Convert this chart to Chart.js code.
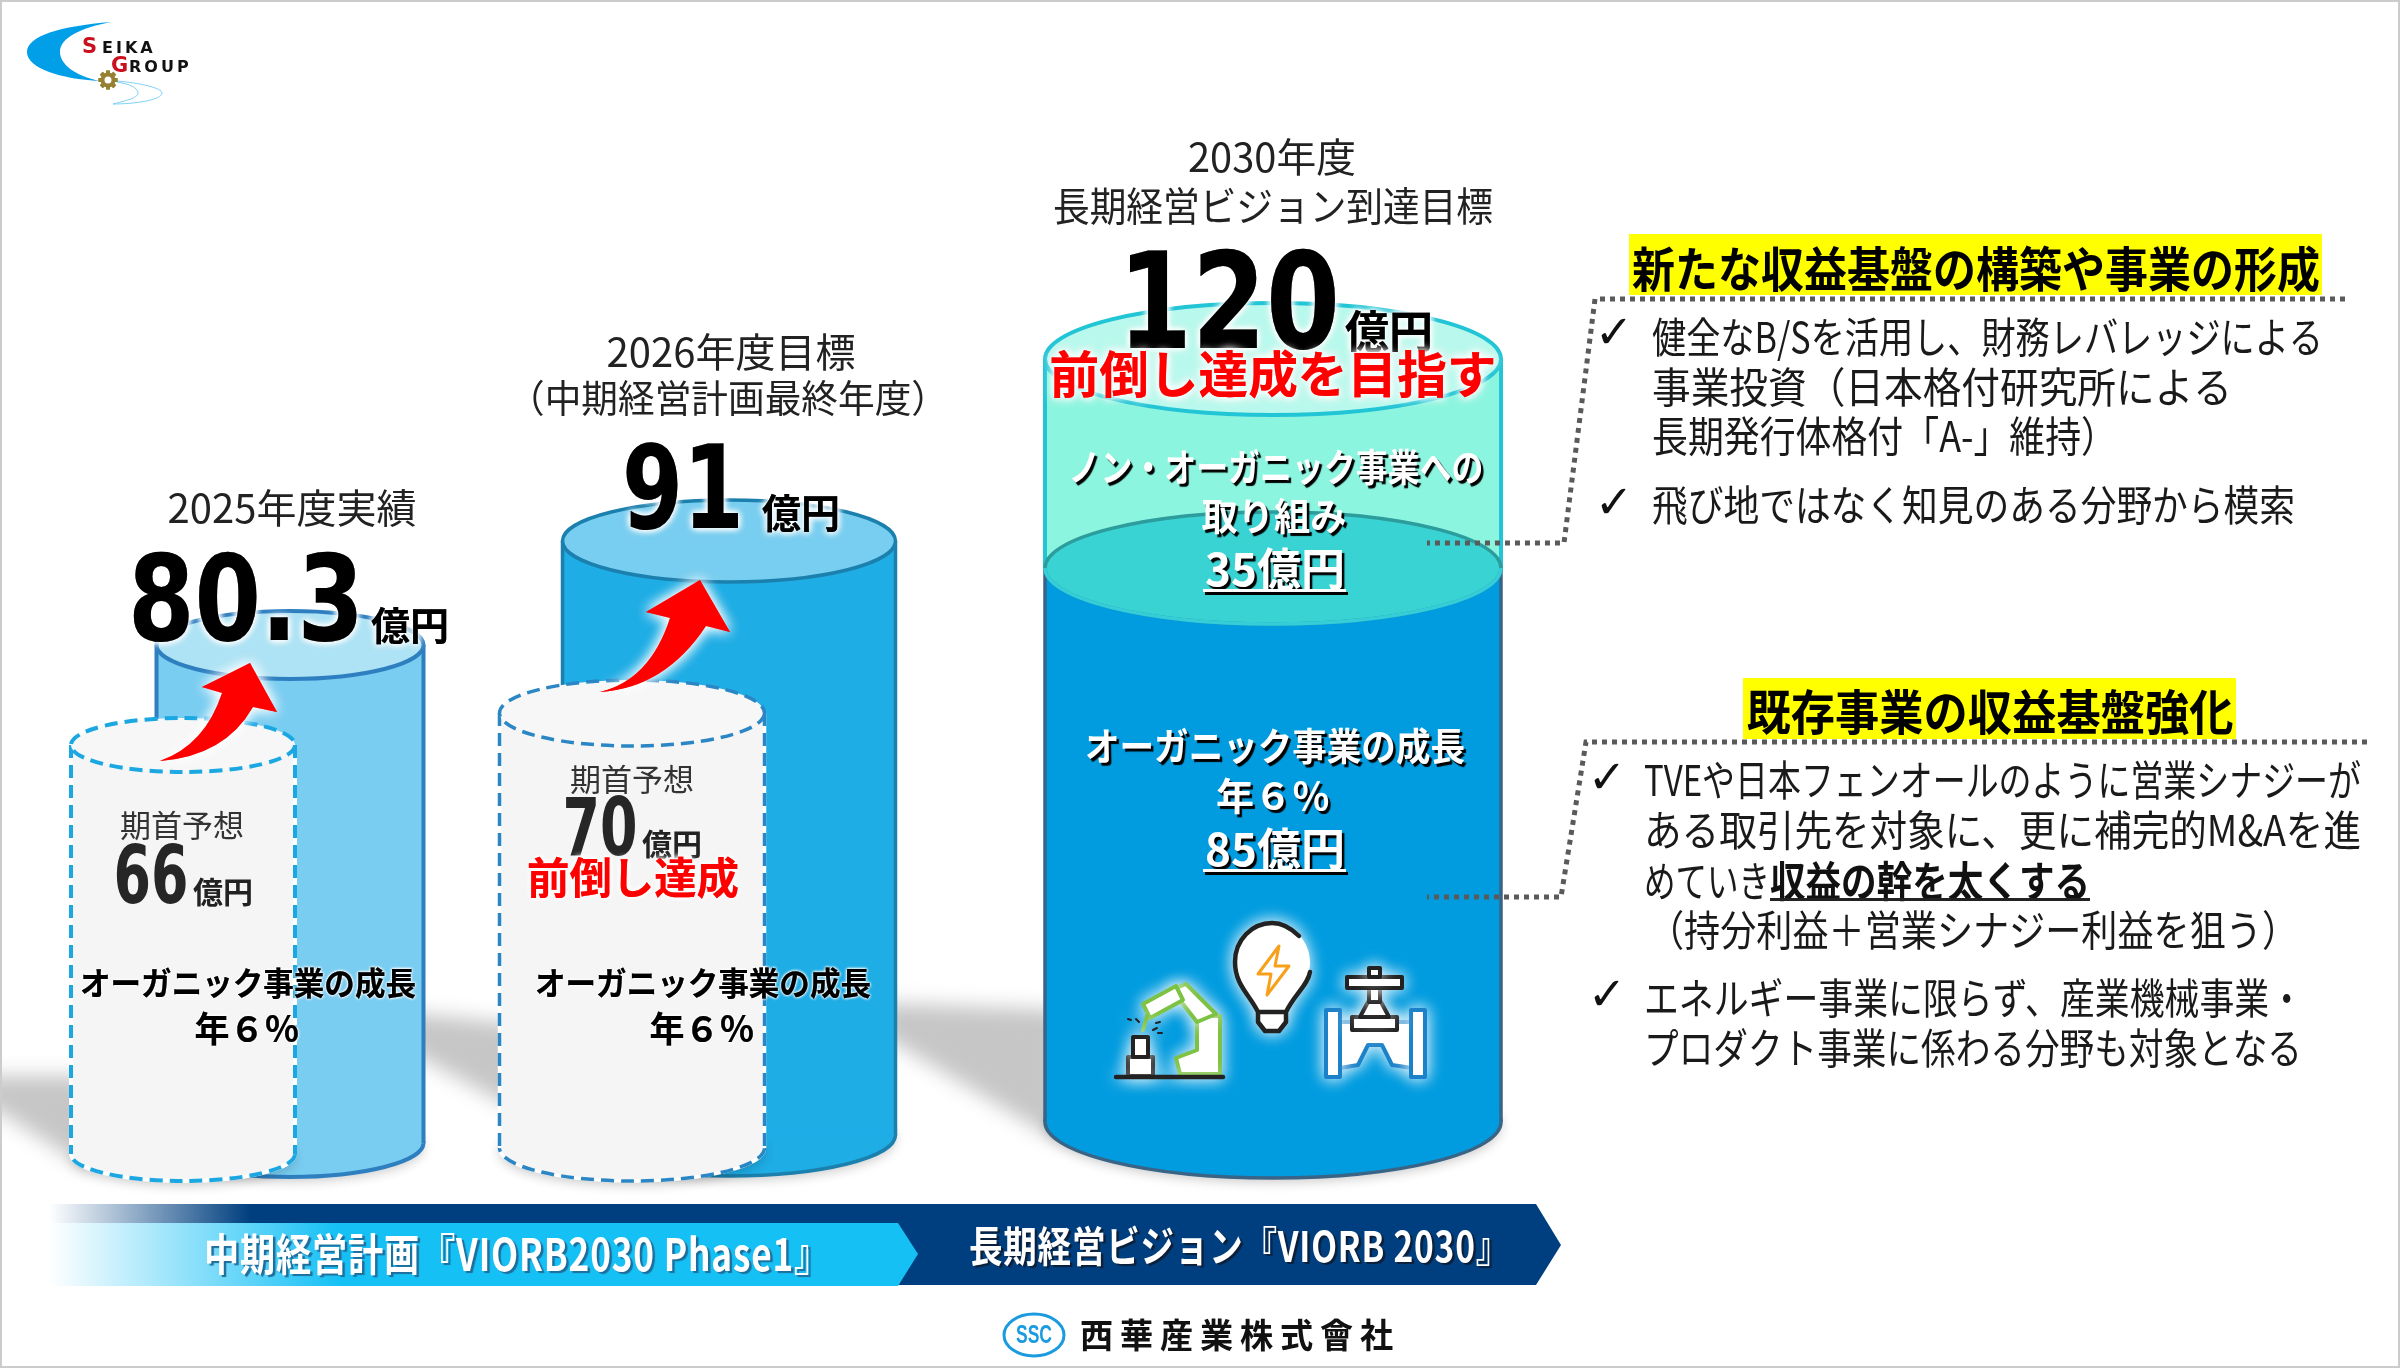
<!DOCTYPE html>
<html lang="ja">
<head>
<meta charset="UTF-8">
<title>長期経営ビジョン VIORB 2030</title>
<script src="https://cdn.jsdelivr.net/npm/chart.js@4"></script>
<style>
  html, body { margin: 0; background: #fff; }
  canvas { display: block; }
</style>
</head>
<body>
<canvas id="vision_chart" width="2400" height="1368"></canvas>
<script>
// values (億円)
const resultYears = ['2025年度実績', '2026年度目標', '2030年度'];
const resultValues = [80.3, 91, 120];
const forecastValues = [66, 70];
const organicValue = 85;
const nonOrganicValue = 35;

const yenUnit = '億円';
const growthText = ['オーガニック事業の成長', '年６％'];
const upperPoints = ['健全なB/Sを活用し、財務レバレッジによる', '事業投資（日本格付研究所による', '長期発行体格付「A-」維持）', '飛び地ではなく知見のある分野から模索'];
const lowerPoints = ['TVEや日本フェンオールのように営業シナジーが', 'ある取引先を対象に、更に補完的M&Aを進', '（持分利益＋営業シナジー利益を狙う）', 'エネルギー事業に限らず、産業機械事業・', 'プロダクト事業に係わる分野も対象となる'];

const JP = '"Noto Sans CJK JP"';
const BIG = '"DejaVu Sans"';

// the slide is not drawn to scale, so every cylinder gets its own hidden axis,
// pinned by two value -> pixel pairs
function pinAxis(v0, p0, v1, p1) {
  const perUnit = (p0 - p1) / (v1 - v0);
  const zero = p0 + v0 * perUnit;
  return { type: 'linear', display: false, min: (zero - 1368) / perUnit, max: zero / perUnit };
}

const looks = {
  fc66: { ry: 27, cap: '#F7F7F7', line: '#1AA7E2', lw: 4, dash: [13, 7], bottom: true },
  fc70: { ry: 33, cap: '#F7F7F7', line: '#2A86C4', lw: 3.5, dash: [13, 7], bottom: true },
  res80: { ry: 34, cap: '#AEE3F5', line: '#2E7FC0', lw: 4, bottom: true },
  res91: { ry: 41, cap: '#78CEF0', line: '#1B80AE', lw: 3.5, bottom: true },
  organic: { ry: 56, cap: '#3AD3D3', line: '#2C9C9C', front: '#35CDD8', lw: 3.5, side: '#3A6485', bottom: true },
  nonOrganic: { ry: 56, cap: '#B9F8EC', line: '#22C5D6', lw: 4, side: '#22C5D6' }
};

function bar(id, label, x, width, y, fill, axis) {
  return { label: label, lookId: id, data: [{ x: x, y: y }], barThickness: width, backgroundColor: fill, borderWidth: 0, yAxisID: axis };
}

// first dataset is painted last
const datasets = [
  bar('fc66', '2025年度 期首予想', 183, 224, [0, forecastValues[0]], '#F5F5F5', 'yA2'),
  bar('fc70', '2026年度 期首予想', 632, 265, [0, forecastValues[1]], '#F5F5F5', 'yB2'),
  bar('res80', resultYears[0], 290, 267, [0, resultValues[0]], '#79CDF1', 'yA'),
  bar('res91', resultYears[1], 729, 333, [0, resultValues[1]], '#1EADE5', 'yB'),
  bar('organic', growthText[0], 1273, 456, [0, organicValue], '#019CE0', 'yC'),
  bar('nonOrganic', 'ノン・オーガニック事業', 1273, 456, [organicValue, organicValue + nonOrganicValue], '#8CF5DF', 'yD')
];

function outline(ctx, look) {
  ctx.strokeStyle = look.line;
  ctx.lineWidth = look.lw;
  ctx.setLineDash(look.dash || []);
}

function text(ctx, str, x, y, o) {
  ctx.save();
  ctx.font = (o.weight || 400) + ' ' + o.size + 'px ' + (o.family || JP);
  ctx.textAlign = o.align || 'center';
  ctx.textBaseline = o.base || 'middle';
  ctx.fillStyle = o.color || '#111';
  if (o.spacing) ctx.letterSpacing = o.spacing + 'px';
  if (o.halo) { ctx.shadowColor = o.halo; ctx.shadowBlur = o.blur || 8; }
  if (o.drop) { ctx.shadowColor = o.drop; ctx.shadowBlur = 1; ctx.shadowOffsetX = 2.5; ctx.shadowOffsetY = 2.5; }
  const n = o.halo ? 3 : 1;
  for (let i = 0; i < n; i++) {
    if (o.width) ctx.fillText(str, x, y, o.width); else ctx.fillText(str, x, y);
  }
  ctx.restore();
}

function poly(ctx, pts, fill, stroke, lw) {
  ctx.beginPath();
  pts.forEach(function (p, i) { if (i) ctx.lineTo(p[0], p[1]); else ctx.moveTo(p[0], p[1]); });
  ctx.closePath();
  if (fill) { ctx.fillStyle = fill; ctx.fill(); }
  if (stroke) { ctx.strokeStyle = stroke; ctx.lineWidth = lw; ctx.stroke(); }
}

function dotted(ctx, pts) {
  ctx.save();
  ctx.strokeStyle = '#5A5A5A';
  ctx.lineWidth = 5;
  ctx.setLineDash([5, 5]);
  ctx.beginPath();
  pts.forEach(function (p, i) { if (i) ctx.lineTo(p[0], p[1]); else ctx.moveTo(p[0], p[1]); });
  ctx.stroke();
  ctx.restore();
}

function drawShadows(ctx) {
  ctx.save();
  ctx.beginPath();
  ctx.rect(2, 0, 2396, 1368);
  ctx.clip();
  ctx.filter = 'blur(10px)';
  poly(ctx, [[-40, 1076], [90, 1076], [90, 1170], [0, 1112], [-40, 1095]], '#C6C6C6');
  poly(ctx, [[400, 1012], [520, 1024], [520, 1112], [421, 1058], [400, 1045]], '#C6C6C6');
  poly(ctx, [[880, 1003], [1060, 1010], [1060, 1142], [898, 1045], [880, 1035]], '#C6C6C6');
  ctx.restore();
}

function drawArrow(ctx, d) {
  ctx.save();
  ctx.shadowColor = '#fff';
  ctx.shadowBlur = 14;
  ctx.fillStyle = '#FF0000';
  const p = new Path2D(d);
  ctx.fill(p);
  ctx.fill(p);
  ctx.restore();
}

function drawBanner(ctx) {
  const dark = ctx.createLinearGradient(49, 0, 250, 0);
  dark.addColorStop(0, 'rgba(0,63,127,0)');
  dark.addColorStop(1, '#003F7F');
  poly(ctx, [[49, 1204], [1536, 1204], [1561, 1245], [1536, 1285], [49, 1285]], dark);
  const light = ctx.createLinearGradient(49, 0, 340, 0);
  light.addColorStop(0, '#FFFFFF');
  light.addColorStop(1, '#15C0F5');
  poly(ctx, [[49, 1223], [898, 1223], [918, 1254], [898, 1286], [49, 1286]], light);
  text(ctx, '中期経営計画『VIORB2030 Phase1』', 204, 1254, { size: 44, weight: 700, align: 'left', color: '#fff', drop: '#1C6E9C', spacing: 1, width: 626 });
  text(ctx, '長期経営ビジョン『VIORB 2030』', 969, 1246, { size: 42, weight: 700, align: 'left', color: '#fff', drop: '#0B1F3A', spacing: 1, width: 541 });
}

function drawLogos(ctx) {
  // top left mark
  ctx.fillStyle = '#009FE8';
  ctx.fill(new Path2D('M111,22 C60,26 27,36 27,52 C27,68 60,79 100,81 C75,76 60,64 60,52 C60,38 80,28 111,22 Z'));
  ctx.strokeStyle = '#7FD0F5';
  ctx.lineWidth = 1;
  ctx.stroke(new Path2D('M117,81 C140,83 162,88 162,93 C162,100 135,104 113,104 M117,82 C130,84 138,88 138,93 C138,98 125,101 113,104'));
  ctx.save();
  ctx.translate(108, 80);
  ctx.fillStyle = '#968132';
  for (let i = 0; i < 8; i++) { ctx.rotate(Math.PI / 4); ctx.fillRect(-2, -9.5, 4, 19); }
  ctx.beginPath(); ctx.arc(0, 0, 7.5, 0, 2 * Math.PI); ctx.fill();
  ctx.fillStyle = '#fff';
  ctx.beginPath(); ctx.arc(0, 0, 3.5, 0, 2 * Math.PI); ctx.fill();
  ctx.restore();
  const fam = '"DejaVu Sans"';
  text(ctx, 'S', 82, 53, { size: 21, weight: 700, family: fam, color: '#C8101E', align: 'left', base: 'alphabetic' });
  text(ctx, 'EIKA', 102, 53, { size: 16, weight: 700, family: fam, color: '#111', align: 'left', base: 'alphabetic', spacing: 3 });
  text(ctx, 'G', 111, 72, { size: 21, weight: 700, family: fam, color: '#C8101E', align: 'left', base: 'alphabetic' });
  text(ctx, 'ROUP', 129, 72, { size: 16, weight: 700, family: fam, color: '#111', align: 'left', base: 'alphabetic', spacing: 3 });
  // footer mark
  ctx.strokeStyle = '#1B9BDF';
  ctx.lineWidth = 3;
  ctx.beginPath(); ctx.ellipse(1034, 1335, 30, 21, 0, 0, 2 * Math.PI); ctx.stroke();
  text(ctx, 'SSC', 1034, 1336, { size: 26, weight: 700, color: '#1B9BDF', width: 36, family: '"Liberation Sans"' });
  text(ctx, '西華産業株式會社', 1080, 1335, { size: 34, weight: 700, color: '#111', align: 'left', spacing: 7, width: 320 });
}

function drawIcons(ctx) {
  ctx.save();
  ctx.shadowColor = 'rgba(255,255,255,1)';
  ctx.shadowBlur = 16;
  ctx.lineJoin = 'round';
  ctx.lineCap = 'round';
  // bulb
  ctx.fillStyle = '#fff';
  ctx.strokeStyle = '#222';
  ctx.lineWidth = 4.5;
  ctx.fill(new Path2D('M1258,1012 C1250,995 1235,985 1235,962 C1235,940 1252,923 1272,923 C1292,923 1310,940 1310,962 C1310,985 1294,995 1286,1012 L1286,1022 L1279,1031 L1265,1031 L1258,1022 Z'));
  ctx.stroke(new Path2D('M1299,936 C1290,927 1282,923 1272,923 C1252,923 1235,940 1235,962 C1235,985 1250,995 1258,1012 L1258,1022 L1265,1031 L1279,1031 L1286,1022 L1286,1012 C1294,995 1308,985 1310,972 M1258,1012 L1286,1012'));
  ctx.strokeStyle = '#F9A01B';
  ctx.lineWidth = 3;
  ctx.stroke(new Path2D('M1279,946 L1258,974 L1271,974 L1267,995 L1289,966 L1275,966 Z'));
  // valve
  poly(ctx, [[1340, 1022], [1412, 1022], [1412, 1068], [1392, 1065], [1382, 1045], [1368, 1045], [1358, 1065], [1340, 1068]], '#fff', '#1B82C9', 4);
  poly(ctx, [[1326, 1010], [1340, 1010], [1340, 1077], [1326, 1077]], '#fff', '#1B82C9', 4);
  poly(ctx, [[1411, 1010], [1425, 1010], [1425, 1077], [1411, 1077]], '#fff', '#1B82C9', 4);
  poly(ctx, [[1352, 1017], [1397, 1017], [1397, 1030], [1352, 1030]], '#fff', '#222', 4);
  poly(ctx, [[1360, 1017], [1368, 1002], [1381, 1002], [1389, 1017]], '#fff', '#222', 4);
  poly(ctx, [[1369, 982], [1380, 982], [1380, 1002], [1369, 1002]], '#fff', '#222', 4);
  poly(ctx, [[1347, 977], [1402, 977], [1402, 988], [1347, 988]], '#fff', '#222', 4);
  poly(ctx, [[1369, 968], [1380, 968], [1380, 977], [1369, 977]], '#fff', '#222', 4);
  // robot arm
  const green = '#7DC242';
  poly(ctx, [[1197, 1016], [1220, 1016], [1220, 1074], [1180, 1074], [1176, 1058], [1197, 1050]], '#fff', green, 4);
  poly(ctx, [[1172, 990], [1186, 984], [1216, 1014], [1197, 1022]], '#fff', green, 4);
  poly(ctx, [[1143, 1004], [1176, 986], [1183, 1000], [1150, 1018]], '#fff', green, 4);
  ctx.strokeStyle = green;
  ctx.lineWidth = 4;
  ctx.beginPath(); ctx.moveTo(1147, 1016); ctx.lineTo(1143, 1030); ctx.stroke();
  poly(ctx, [[1128, 1057], [1153, 1057], [1153, 1076], [1128, 1076]], '#fff', '#222', 4);
  poly(ctx, [[1133, 1037], [1148, 1037], [1148, 1057], [1133, 1057]], '#fff', '#222', 4);
  ctx.strokeStyle = '#222';
  ctx.lineWidth = 4.5;
  ctx.beginPath(); ctx.moveTo(1116, 1077); ctx.lineTo(1223, 1077); ctx.stroke();
  ctx.lineWidth = 2;
  ctx.stroke(new Path2D('M1128,1019 L1131,1020 M1136,1019 L1139,1022 M1153,1030 L1157,1028 M1156,1023 L1160,1022 M1158,1033 L1162,1033'));
  ctx.restore();
}

function drawTexts(ctx) {
  const head = { size: 40, color: '#222' };
  const money = { weight: 700, base: 'alphabetic', color: '#000', halo: '#fff', blur: 7 };
  const bigMoney = { weight: 700, base: 'alphabetic', family: BIG, color: '#000', halo: '#fff', blur: 7 };
  const small = { size: 80, weight: 700, base: 'alphabetic', family: BIG, color: '#262626', width: 75 };
  const growth = { weight: 700, color: '#000', halo: '#fff', blur: 3 };

  // 2025
  text(ctx, resultYears[0], 292, 508, Object.assign({ width: 249 }, head));
  text(ctx, String(resultValues[0]), 246, 640, Object.assign({ size: 120, width: 236 }, bigMoney));
  text(ctx, yenUnit, 410, 640, Object.assign({ size: 39, width: 78 }, money));
  text(ctx, '期首予想', 182, 825, { size: 31, color: '#333', width: 124 });
  text(ctx, String(forecastValues[0]), 151, 903, small);
  text(ctx, yenUnit, 223, 903, { size: 30, weight: 700, base: 'alphabetic', color: '#222', width: 60 });
  text(ctx, growthText[0], 248, 983, Object.assign({ size: 32, width: 336 }, growth));
  text(ctx, growthText[1], 247, 1029, Object.assign({ size: 35, width: 106 }, growth));

  // 2026
  text(ctx, '2026年度目標', 731, 352, Object.assign({ width: 249 }, head));
  text(ctx, '（中期経営計画最終年度）', 728, 398, { size: 38, color: '#222', width: 440 });
  text(ctx, String(resultValues[1]), 683, 528, Object.assign({ size: 115, width: 122 }, bigMoney));
  text(ctx, yenUnit, 801, 528, Object.assign({ size: 40, width: 78 }, money));
  text(ctx, '期首予想', 632, 779, { size: 31, color: '#333', width: 125 });
  text(ctx, String(forecastValues[1]), 600, 855, small);
  text(ctx, yenUnit, 672, 855, { size: 30, weight: 700, base: 'alphabetic', color: '#222', width: 60 });
  text(ctx, '前倒し達成', 633, 878, { size: 43, weight: 700, color: '#FF0000', halo: '#fff', blur: 6, width: 212 });
  text(ctx, growthText[0], 703, 983, Object.assign({ size: 32, width: 336 }, growth));
  text(ctx, growthText[1], 702, 1029, Object.assign({ size: 35, width: 106 }, growth));

  // 2030
  text(ctx, resultYears[2], 1272, 157, Object.assign({ width: 168 }, head));
  text(ctx, '長期経営ビジョン到達目標', 1273, 206, Object.assign({ width: 440 }, head));
  text(ctx, String(resultValues[2]), 1229, 348, Object.assign({ size: 134, width: 222 }, bigMoney));
  text(ctx, yenUnit, 1389, 348, Object.assign({ size: 44, width: 88 }, money));
  text(ctx, '前倒し達成を目指す', 1273, 374, { size: 50, weight: 700, color: '#FF0000', halo: '#fff', blur: 10, width: 447 });

  const onBlue = { weight: 700, color: '#fff', drop: '#000' };
  text(ctx, 'ノン・オーガニック事業への', 1276, 467, Object.assign({ size: 38, width: 415 }, onBlue));
  text(ctx, '取り組み', 1274, 516, Object.assign({ size: 38, width: 145 }, onBlue));
  text(ctx, nonOrganicValue + yenUnit, 1275, 569, Object.assign({ size: 45, width: 140 }, onBlue));
  text(ctx, growthText[0], 1275, 746, Object.assign({ size: 38, width: 380 }, onBlue));
  text(ctx, growthText[1], 1273, 796, Object.assign({ size: 38, width: 118 }, onBlue));
  text(ctx, organicValue + yenUnit, 1275, 849, Object.assign({ size: 45, width: 140 }, onBlue));
  ctx.fillStyle = '#000';
  ctx.fillRect(1205, 592, 143, 3);
  ctx.fillRect(1205, 872, 143, 3);
  ctx.fillStyle = '#fff';
  ctx.fillRect(1203, 589, 143, 3);
  ctx.fillRect(1203, 869, 143, 3);

  // right side
  ctx.fillStyle = '#FFFF00';
  ctx.fillRect(1629, 234, 693, 61);
  ctx.fillRect(1743, 678, 493, 61);
  text(ctx, '新たな収益基盤の構築や事業の形成', 1976, 269, { size: 48, weight: 700, color: '#000', width: 688 });
  text(ctx, '既存事業の収益基盤強化', 1990, 712, { size: 48, weight: 700, color: '#000', width: 487 });
  dotted(ctx, [[2345, 299], [1595, 299], [1564, 543], [1427, 543]]);
  dotted(ctx, [[2367, 742], [1586, 742], [1561, 897], [1427, 897]]);

  const body = { size: 42, align: 'left', color: '#1a1a1a' };
  const check = { size: 46, color: '#111', family: BIG };
  text(ctx, '✓', 1614, 336, check);
  text(ctx, '✓', 1614, 506, check);
  text(ctx, '✓', 1607, 781, check);
  text(ctx, '✓', 1607, 998, check);
  text(ctx, upperPoints[0], 1652, 337, Object.assign({ width: 671 }, body));
  text(ctx, upperPoints[1], 1652, 387, Object.assign({ width: 580 }, body));
  text(ctx, upperPoints[2], 1652, 436, Object.assign({ width: 465 }, body));
  text(ctx, upperPoints[3], 1652, 505, Object.assign({ width: 643 }, body));
  text(ctx, lowerPoints[0], 1644, 780, Object.assign({ width: 717 }, body));
  text(ctx, lowerPoints[1], 1644, 830, Object.assign({ width: 717 }, body));
  text(ctx, 'めていき', 1644, 881, Object.assign({ width: 126 }, body));
  text(ctx, '収益の幹を太くする', 1770, 881, { size: 42, weight: 700, align: 'left', color: '#111', width: 320 });
  ctx.fillStyle = '#222';
  ctx.fillRect(1770, 898, 320, 3);
  text(ctx, lowerPoints[2], 1648, 930, Object.assign({ width: 650 }, body));
  text(ctx, lowerPoints[3], 1644, 998, Object.assign({ width: 660 }, body));
  text(ctx, lowerPoints[4], 1644, 1048, Object.assign({ width: 658 }, body));
}

const cylinderPlugin = {
  id: 'cylinders',
  beforeDatasetsDraw(chart) {
    drawShadows(chart.ctx);
  },
  beforeDatasetDraw(chart, args) {
    const look = looks[chart.data.datasets[args.index].lookId];
    if (!look.bottom) return;
    const ctx = chart.ctx, el = args.meta.data[0];
    ctx.save();
    ctx.beginPath();
    ctx.ellipse(el.x, el.base, el.width / 2, look.ry, 0, 0, 2 * Math.PI);
    ctx.fillStyle = chart.data.datasets[args.index].backgroundColor;
    ctx.shadowColor = 'rgba(0,0,0,0.22)';
    ctx.shadowBlur = 12;
    ctx.shadowOffsetY = 4;
    ctx.fill();
    ctx.shadowColor = 'transparent';
    if (look.dash) {
      ctx.strokeStyle = '#fff';
      ctx.lineWidth = look.lw;
      ctx.stroke();
    }
    outline(ctx, look);
    if (look.side) ctx.strokeStyle = look.side;
    ctx.stroke();
    ctx.restore();
  },
  afterDatasetDraw(chart, args) {
    const look = looks[chart.data.datasets[args.index].lookId];
    const ctx = chart.ctx, el = args.meta.data[0];
    const left = el.x - el.width / 2, right = el.x + el.width / 2;
    ctx.save();
    ctx.beginPath();
    ctx.moveTo(left, el.y); ctx.lineTo(left, el.base);
    ctx.moveTo(right, el.y); ctx.lineTo(right, el.base);
    if (look.dash) {
      ctx.strokeStyle = '#fff';
      ctx.lineWidth = look.lw;
      ctx.stroke();
    }
    outline(ctx, look);
    if (look.side) ctx.strokeStyle = look.side;
    ctx.stroke();
    ctx.beginPath();
    ctx.ellipse(el.x, el.y, el.width / 2, look.ry, 0, 0, 2 * Math.PI);
    ctx.fillStyle = look.cap;
    ctx.fill();
    outline(ctx, look);
    ctx.stroke();
    if (look.front) {
      ctx.strokeStyle = look.front;
      ctx.beginPath();
      ctx.ellipse(el.x, el.y, el.width / 2, look.ry, 0, 0, Math.PI);
      ctx.stroke();
    }
    ctx.restore();
  },
  afterDatasetsDraw(chart) {
    const ctx = chart.ctx;
    drawIcons(ctx);
    drawArrow(ctx, 'M160,761 Q205,745 222,693 L202,687 L250,663 L277,712 L253,707 Q225,756 160,761 Z');
    drawArrow(ctx, 'M600,692 Q650,680 670,618 L646,612 L700,580 L730,632 L706,626 Q665,688 600,692 Z');
    drawBanner(ctx);
    drawLogos(ctx);
    drawTexts(ctx);
    ctx.strokeStyle = '#CCCCCC';
    ctx.lineWidth = 2;
    ctx.strokeRect(1, 1, 2398, 1366);
  }
};

new Chart(document.getElementById('vision_chart'), {
  type: 'bar',
  data: { datasets: datasets },
  plugins: [cylinderPlugin],
  options: {
    responsive: false,
    animation: false,
    devicePixelRatio: 1,
    grouped: false,
    layout: { padding: 0 },
    plugins: { legend: { display: false }, title: { display: false }, tooltip: { enabled: false } },
    scales: {
      x: { type: 'linear', display: false, min: 0, max: 2400, offset: false },
      yA: pinAxis(0, 1143, resultValues[0], 645),
      yA2: pinAxis(0, 1154, forecastValues[0], 745),
      yB: pinAxis(0, 1135, resultValues[1], 541),
      yB2: pinAxis(0, 1148, forecastValues[1], 713),
      yC: pinAxis(0, 1122, organicValue, 568),
      yD: pinAxis(organicValue, 568, organicValue + nonOrganicValue, 359)
    }
  }
});
</script>
</body>
</html>
